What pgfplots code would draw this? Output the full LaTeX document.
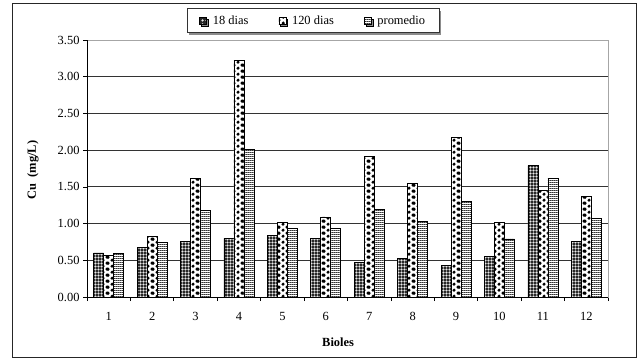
\documentclass[border=0pt]{standalone}
\usepackage{pgfplots}
\pgfplotsset{compat=1.18}
\usetikzlibrary{patterns,patterns.meta,shadows}
\usepackage{fontspec}
\setmainfont{Liberation Serif}

\tikzdeclarepattern{name=mycircles, type=uncolored,
  bottom left={(0,0)}, top right={(3.4bp,3.4bp)}, tile size={(3.4bp,3.4bp)},
  code={\draw[line width=0.6bp] (1.7bp,1.7bp) circle (0.9bp);}}
\tikzdeclarepattern{name=mydiamonds, type=uncolored,
  bottom left={(0,0)}, top right={(9bp,5.8bp)}, tile size={(9bp,5.8bp)},
  code={
    \fill (4.5bp,1.1bp)--(6.3bp,2.9bp)--(4.5bp,4.7bp)--(2.7bp,2.9bp)--cycle;
    \fill (0,-1.8bp)--(1.8bp,0)--(0,1.8bp)--(-1.8bp,0)--cycle;
    \fill (9bp,-1.8bp)--(10.8bp,0)--(9bp,1.8bp)--(7.2bp,0)--cycle;
    \fill (0,4bp)--(1.8bp,5.8bp)--(0,7.6bp)--(-1.8bp,5.8bp)--cycle;
    \fill (9bp,4bp)--(10.8bp,5.8bp)--(9bp,7.6bp)--(7.2bp,5.8bp)--cycle;
  }}
\tikzdeclarepattern{name=myhlines, type=uncolored,
  bottom left={(0,0)}, top right={(2.2bp,2.2bp)}, tile size={(2.2bp,2.2bp)},
  code={\fill (0,0) rectangle (2.2bp,1.2bp);}}

\pgfplotstableread{
x a b c
1 0.60 0.57 0.59
2 0.68 0.83 0.75
3 0.76 1.62 1.18
4 0.80 3.22 2.01
5 0.84 1.01 0.93
6 0.80 1.09 0.94
7 0.47 1.92 1.19
8 0.52 1.55 1.03
9 0.43 2.17 1.30
10 0.55 1.01 0.79
11 1.79 1.45 1.62
12 0.76 1.37 1.07
}\datatable

\begin{document}
\begin{tikzpicture}[x=1bp,y=1bp]
\useasboundingbox (0,0) rectangle (637,362);
\draw[line width=0.9bp, black!85] (12,5) rectangle (636,359);
\begin{axis}[
  at={(87bp,65bp)}, anchor=south west,
  scale only axis, width=521bp, height=257bp,
  xmin=0.5, xmax=12.5, ymin=0, ymax=3.5,
  ybar=0pt, bar width=10bp,
  xtick={1,...,12},
  minor xtick={0.5,1.5,...,12.5},
  major x tick style={draw=none},
  minor x tick style={black, line width=0.7bp},
  minor tick length=4bp,
  ytick={0,0.5,1,1.5,2,2.5,3,3.5},
  major tick length=4bp,
  y tick style={black, line width=0.7bp},
  tick align=outside,
  xtick pos=bottom, ytick pos=left,
  ymajorgrids, grid style={black!80, line width=0.8bp},
  axis line style={black!35, line width=0.8bp},
  /pgf/number format/assume math mode=true,
  yticklabel style={/pgf/number format/.cd, fixed, fixed zerofill, precision=2, /tikz/.cd, font=\fontsize{12.5}{14}\selectfont},
  xticklabel style={font=\fontsize{12.5}{14}\selectfont, yshift=-8bp},
  xlabel={\textbf{Bioles}},
  xlabel style={at={(axis description cs:0.482,0)}, anchor=center, yshift=-45bp, font=\fontsize{12.5}{14}\selectfont},
  ylabel={\textbf{Cu\ \ (mg/L)}},
  ylabel style={at={(axis description cs:-0.104,0.494)}, anchor=center, font=\fontsize{12.5}{14}\selectfont},
  area legend,
  legend image code/.code={\draw[#1, line width=0.5bp] (0bp,-3.5bp) rectangle (7bp,3.5bp);},
  legend style={at={(0.192,1.027)}, anchor=south west, legend columns=3,
    draw=black!80, line width=0.8bp,
    drop shadow={shadow xshift=2bp, shadow yshift=-2bp, fill=black!45, opacity=1},
    fill=white,
    font=\fontsize{12.5}{14}\selectfont,
    inner xsep=12bp, inner ysep=5bp,
    /tikz/every odd column/.append style={column sep=4bp},
    /tikz/every even column/.append style={column sep=28bp}},
]
\addplot[draw=black, line width=0.7bp, fill=black!85, postaction={pattern=mycircles, pattern color=white}] table[x=x,y=a] {\datatable};
\addplot[draw=black, line width=0.7bp, fill=white, postaction={pattern=mydiamonds, pattern color=black}] table[x=x,y=b] {\datatable};
\addplot[draw=black, line width=0.7bp, fill=white, postaction={pattern=myhlines, pattern color=black!80}] table[x=x,y=c] {\datatable};
\legend{18 dias, 120 dias, promedio}
\draw[black, line width=0.8bp] (rel axis cs:0,0) -- (rel axis cs:0,1);
\draw[black, line width=0.8bp] (rel axis cs:0,0) -- (rel axis cs:1,0);
\end{axis}
\end{tikzpicture}
\end{document}
